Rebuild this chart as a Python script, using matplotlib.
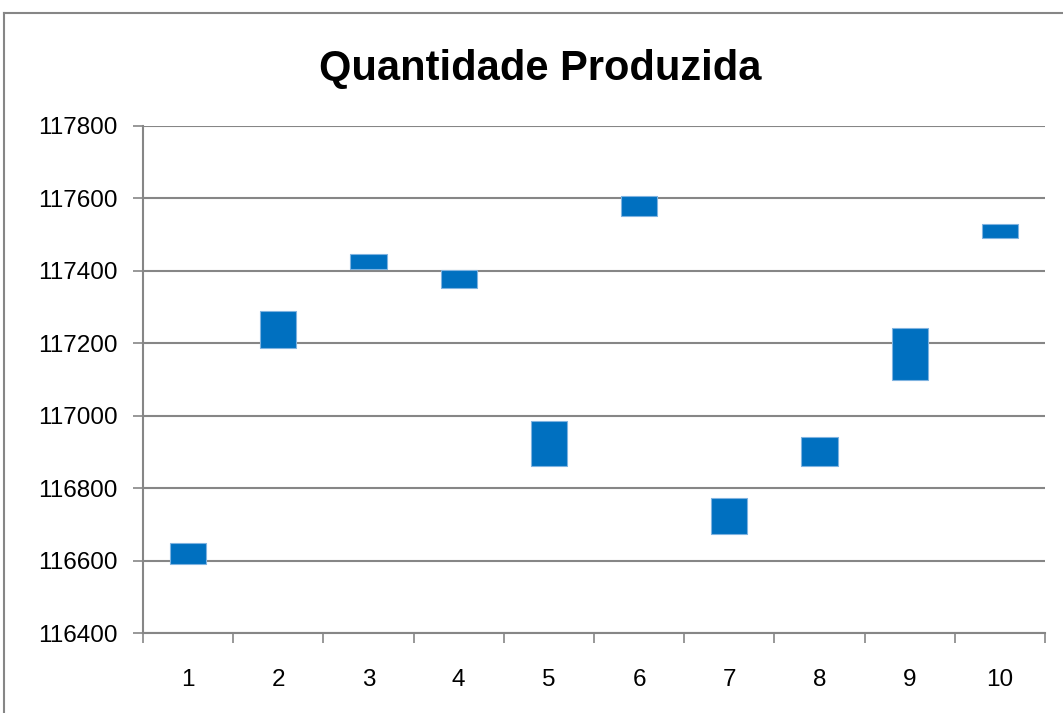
import matplotlib.pyplot as plt
from matplotlib.lines import Line2D

# Quantidade produzida - floating bars (low / high per period)
periodos = [1, 2, 3, 4, 5, 6, 7, 8, 9, 10]
minimo = [116590, 117186, 117406, 117352, 116860, 117551, 116672, 116861, 117098, 117490]
maximo = [116649, 117290, 117446, 117401, 116986, 117606, 116772, 116942, 117241, 117529]
y_ticks = [116400, 116600, 116800, 117000, 117200, 117400, 117600, 117800]

cinza = '#868686'
plt.rcParams['font.family'] = ['Liberation Sans', 'DejaVu Sans']

fig = plt.figure(figsize=(10.63, 7.13), dpi=100)
ax = fig.add_axes([143 / 1063, 1 - 633 / 713, (1045 - 143) / 1063, (633 - 126) / 713])

alturas = [a - b for a, b in zip(maximo, minimo)]
ax.bar(periodos, alturas, bottom=minimo, width=0.4, color='#0070C0',
       edgecolor='#7FB3E0', linewidth=0.8, zorder=3)

ax.set_xlim(0.5, 10.5)
ax.set_ylim(116400, 117800)
ax.set_yticks(y_ticks)
ax.set_yticklabels([str(v) for v in y_ticks], fontsize=17.5)
ax.yaxis.grid(True, color=cinza, linewidth=1.5, zorder=0)

ax.set_xticks(periodos)
ax.set_xticklabels([str(p) for p in periodos], fontsize=17.5)
ax.set_xticks([p + 0.5 for p in range(0, 11)], minor=True)
ax.tick_params(axis='x', which='major', length=0, pad=26)
ax.tick_params(axis='x', which='minor', length=7, width=1.2, color=cinza, direction='out')
ax.tick_params(axis='y', length=7, width=1.2, color=cinza, direction='out', pad=11)

for s in ['top', 'right']:
    ax.spines[s].set_visible(False)
for s in ['left', 'bottom']:
    ax.spines[s].set_color(cinza)
    ax.spines[s].set_linewidth(1.5)

fig.text(540 / 1063, 1 - 69 / 713, 'Quantidade Produzida', ha='center', va='center',
         fontsize=30, fontweight='bold')

# chart area border
fig.add_artist(Line2D([4 / 1063, 4 / 1063], [0, 1 - 13 / 713], color=cinza, linewidth=1.5))
fig.add_artist(Line2D([4 / 1063, 1], [1 - 13 / 713, 1 - 13 / 713], color=cinza, linewidth=1.5))

plt.savefig('out.png', dpi=100)
